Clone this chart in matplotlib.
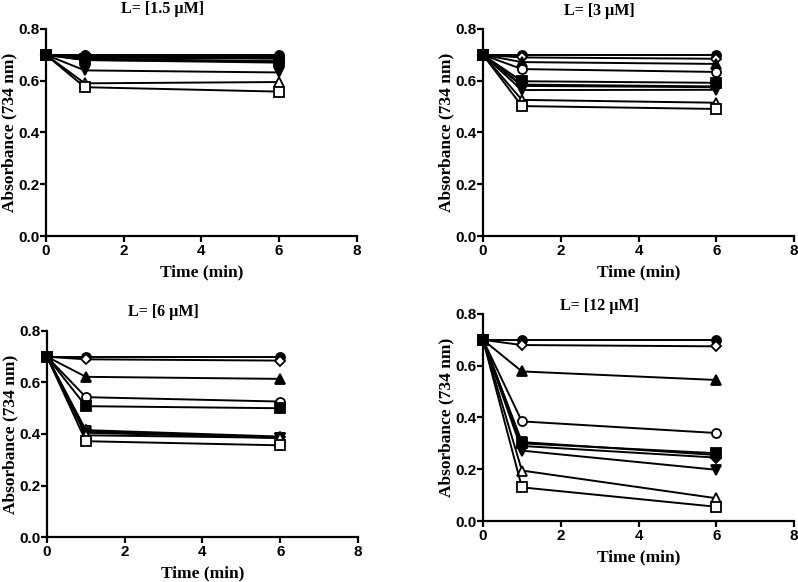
import matplotlib
matplotlib.use("Agg")
import matplotlib.pyplot as plt
import matplotlib.transforms as mtransforms

# time points (min)
times = [0, 1, 6]
start = 0.70

# series markers (GraphPad style), filled or open
markers = ['o', 'D', '^', 'o', 's', 'D', 'v', 'v', '^', 's']
filled = [True, False, True, False, True, True, False, True, False, False]

# absorbance read at t=1 and t=6 for each ligand concentration
c15_t1 = [0.700, 0.695, 0.690, 0.690, 0.685, 0.680, 0.680, 0.640, 0.590, 0.575]
c15_t6 = [0.700, 0.695, 0.690, 0.685, 0.675, 0.675, 0.670, 0.632, 0.595, 0.558]
c3_t1 = [0.700, 0.690, 0.672, 0.645, 0.598, 0.585, 0.580, 0.564, 0.526, 0.502]
c3_t6 = [0.700, 0.685, 0.665, 0.634, 0.592, 0.578, 0.575, 0.565, 0.515, 0.491]
c6_t1 = [0.700, 0.690, 0.622, 0.543, 0.508, 0.415, 0.410, 0.405, 0.395, 0.372]
c6_t6 = [0.700, 0.685, 0.614, 0.526, 0.500, 0.390, 0.385, 0.385, 0.385, 0.356]
c12_t1 = [0.700, 0.680, 0.578, 0.385, 0.300, 0.290, 0.305, 0.272, 0.195, 0.130]
c12_t6 = [0.700, 0.675, 0.545, 0.340, 0.262, 0.245, 0.255, 0.198, 0.088, 0.055]

titles = ['L= [1.5 \u00b5M]', 'L= [3 \u00b5M]', 'L= [6 \u00b5M]', 'L= [12 \u00b5M]']
panels = [(c15_t1, c15_t6), (c3_t1, c3_t6), (c6_t1, c6_t6), (c12_t1, c12_t6)]

rects = [
    [0.0576, 0.5945, 0.3894, 0.3557],
    [0.6053, 0.5945, 0.3897, 0.3557],
    [0.0589, 0.0773, 0.3897, 0.3540],
    [0.6053, 0.1048, 0.3897, 0.3557],
]
title_y = [1.097, 1.087, 1.092, 1.039]

sans = 'Liberation Sans'
serif = 'Liberation Serif'

fig = plt.figure(figsize=(7.98, 5.82), dpi=100)

for i in range(4):
    ax = fig.add_axes(rects[i])
    t1, t6 = panels[i]
    for k in range(len(markers)):
        ys = [start, t1[k], t6[k]]
        fc = 'black' if filled[k] else 'white'
        ms = 5.5 if markers[k] == 'D' else 6.5
        # filled square drawn on top, as in the reference start point
        z = 4 if (markers[k] == 's' and filled[k]) else 3
        ax.plot(times, ys, color='black', lw=1.4, marker=markers[k],
                markersize=ms, markerfacecolor=fc, markeredgecolor='black',
                markeredgewidth=1.3, clip_on=False, zorder=z)
    ax.set_xlim(0, 8)
    ax.set_ylim(0, 0.8)
    ax.set_xticks([0, 2, 4, 6, 8])
    ax.set_yticks([0.0, 0.2, 0.4, 0.6, 0.8])
    ax.set_yticklabels(['0.0', '0.2', '0.4', '0.6', '0.8'])
    for s in ['top', 'right']:
        ax.spines[s].set_visible(False)
    for s in ['left', 'bottom']:
        ax.spines[s].set_linewidth(1.6)
    ax.tick_params(direction='out', length=4, width=1.6)
    ax.tick_params(axis='y', pad=0.5)
    ax.tick_params(axis='x', pad=1.5)
    for lab in ax.get_xticklabels() + ax.get_yticklabels():
        lab.set_fontfamily(sans)
        lab.set_fontweight('bold')
        lab.set_fontsize(11)
    ax.set_xlabel('Time (min)', fontfamily=serif, fontweight='bold', fontsize=12.5, labelpad=5)
    ax.set_ylabel('Absorbance (734 nm)', fontfamily=serif, fontweight='bold', fontsize=12.5, labelpad=0.5)
    trans = mtransforms.blended_transform_factory(ax.transData, ax.transAxes)
    ax.text(3, title_y[i], titles[i], transform=trans, ha='center', va='center',
            fontfamily=serif, fontweight='bold', fontsize=11.5)

fig.savefig('out.png', dpi=100)
